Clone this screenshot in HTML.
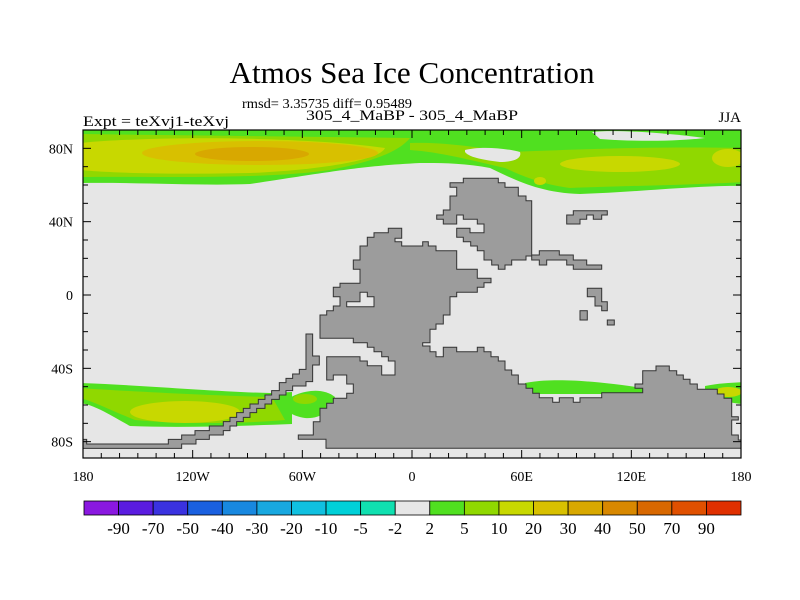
<!DOCTYPE html>
<html><head><meta charset="utf-8">
<style>
html,body{margin:0;padding:0;background:#fff;}
svg{display:block;font-family:"Liberation Serif",serif;}
</style></head>
<body>
<svg id="chart" width="800" height="600" viewBox="0 0 800 600">
  <text x="412" y="83" font-size="31" text-anchor="middle" textLength="365" lengthAdjust="spacingAndGlyphs">Atmos Sea Ice Concentration</text>
  <text x="242" y="108" font-size="14" textLength="170" lengthAdjust="spacingAndGlyphs">rmsd= 3.35735 diff= 0.95489</text>
  <text x="412" y="120" font-size="15" text-anchor="middle" textLength="212" lengthAdjust="spacingAndGlyphs">305_4_MaBP - 305_4_MaBP</text>
  <text x="83" y="126" font-size="15" textLength="146" lengthAdjust="spacingAndGlyphs">Expt = teXvj1-teXvj</text>
  <text x="741" y="122" font-size="15" text-anchor="end">JJA</text>

  <defs><clipPath id="mapclip"><rect x="83" y="130" width="658" height="328"/></clipPath></defs>
  <g clip-path="url(#mapclip)">
    <rect x="83" y="130" width="658" height="330" fill="#e6e6e6"/>
    <!-- Arctic ice west -->
    <g>
      <path d="M80,128 L420,128 L420,163 C360,166 330,172 250,184 C200,186 130,182 80,183 Z" fill="#50e020"/>
      <path d="M80,134 L410,138 C400,150 380,160 330,170 C260,180 150,176 80,177 Z" fill="#90d800"/>
      <path d="M80,143 C150,136 300,136 385,148 C380,160 320,170 250,173 C150,175 100,172 80,170 Z" fill="#c8d800"/>
      <ellipse cx="260" cy="153" rx="118" ry="12" fill="#d8c000"/>
      <ellipse cx="252" cy="154" rx="57" ry="7" fill="#d8a800"/>
    </g>
    <!-- Arctic ice east -->
    <g>
      <path d="M410,128 L745,128 L745,186 C700,185 640,192 580,194 C540,193 515,180 490,168 C460,162 430,163 410,163 Z" fill="#50e020"/>
      <path d="M410,143 C440,142 470,146 510,152 C560,150 650,146 745,148 L745,182 C690,185 620,186 570,188 C540,184 520,175 505,168 C470,160 440,152 410,150 Z" fill="#90d800"/>
      <ellipse cx="620" cy="164" rx="60" ry="8" fill="#c8d800"/>
      <ellipse cx="728" cy="158" rx="16" ry="9" fill="#c8d800"/>
      <ellipse cx="540" cy="181" rx="6" ry="4" fill="#c8d800"/>
      <path d="M592,132 C610,130 650,131 705,138 C680,141 640,142 600,139 Z" fill="#e6e6e6"/>
      <path d="M465,150 C480,146 505,148 520,152 C522,158 515,162 500,162 C485,160 470,158 465,152 Z" fill="#e6e6e6"/>
    </g>
    <!-- Southern ice -->
    <g>
      <path d="M80,383 C140,385 220,392 270,393 L292,392 L292,424 C240,426 180,428 130,426 C110,415 95,405 80,403 Z" fill="#50e020"/>
      <path d="M80,388 C140,392 220,396 272,397 L285,420 C240,424 180,424 135,420 C110,410 95,402 80,398 Z" fill="#90d800"/>
      <ellipse cx="185" cy="412" rx="55" ry="11" fill="#c8d800"/>
      <path d="M280,404 C295,392 320,385 335,397 C330,412 320,419 305,418 C292,416 284,410 280,404 Z" fill="#50e020"/>
      <ellipse cx="305" cy="399" rx="12" ry="5" fill="#90d800"/>
      <path d="M525,383 C550,378 590,380 643,388 L643,394 L525,394 Z" fill="#50e020"/>
      <path d="M705,386 C720,383 732,383 745,382 L745,404 C730,404 715,398 705,390 Z" fill="#50e020"/>
      <ellipse cx="728" cy="392" rx="14" ry="5" fill="#c8d800"/>
    </g>
    <!-- Land -->
    <g fill="#9c9c9c" stroke="#333" stroke-width="1">
      <polygon points="388.3,228.3 401.7,228.3 401.7,238.3 395,238.3 395,241.7 401.7,241.7 401.7,246 422.7,246 422.7,241.7 428.3,241.7 428.3,246 436,246 436,250.7 456.7,250.7 456.7,269.3 477.3,269.3 477.3,278.3 491,278.3 491,282.7 484,282.7 484,287.3 477.3,287.3 477.3,292.3 456.7,292.3 456.7,296.7 450,296.7 450,315 443.3,315 443.3,324 436,324 436,329.3 430,329.3 430,342.7 422.7,342.7 422.7,346 430,346 430,351.7 436,351.7 436,356.7 443.3,356.7 443.3,347.3 456.7,347.3 456.7,351.7 477.3,351.7 477.3,347.3 484,347.3 484,351.7 491,351.7 491,356.7 498.3,356.7 498.3,361 505,361 505,370 511.7,370 511.7,375 518.3,375 518.3,384 526,384 526,388.3 532.7,388.3 532.7,393.3 539.3,393.3 539.3,397.7 552.7,397.7 552.7,402.3 559.3,402.3 559.3,397.7 573.3,397.7 573.3,402.3 580,402.3 580,397.7 601.7,397.7 601.7,392.7 642.7,392.7 642.7,388.3 635,388.3 635,384 642.7,384 642.7,370.7 656,370.7 656,366 669.3,366 669.3,370.7 676.7,370.7 676.7,375 683.3,375 683.3,379.3 690,379.3 690,384 697.3,384 697.3,389.3 717.3,389.3 717.3,394 724,394 724,398.3 731.7,398.3 731.7,416.7 738.3,416.7 738.3,420 731.7,420 731.7,435 738.3,435 738.3,440 745,440 745,448.3 326,448.3 326,439.3 298.3,439.3 298.3,435 313.3,435 313.3,421.7 320,421.7 320,408.3 326.7,408.3 326.7,403.3 333.3,403.3 333.3,398.3 346.7,398.3 346.7,393.3 353.3,393.3 353.3,384 346.7,384 346.7,375 333.3,375 333.3,380 326.7,380 326.7,356.7 360,356.7 360,361 367.3,361 367.3,365.7 381.7,365.7 381.7,375 395,375 395,361 388.3,361 388.3,356.7 381.7,356.7 381.7,351.7 374,351.7 374,347.3 367.3,347.3 367.3,342.7 353.3,342.7 353.3,338.3 320,338.3 320,315 326.7,315 326.7,310.7 333.3,310.7 333.3,306 340,306 340,296.7 333.3,296.7 333.3,287.3 340,287.3 340,283.3 360,283.3 360,269.3 353.3,269.3 353.3,260 360,260 360,246 367.3,246 367.3,237.3 374,237.3 374,232.7 388.3,232.7"/>
      <polygon fill="#e6e6e6" points="346.7,301.7 360,301.7 360,292.3 367.3,292.3 367.3,296.7 374,296.7 374,306.7 346.7,306.7"/>
      <polygon points="450,182.7 463.3,182.7 463.3,178.3 498.3,178.3 498.3,182.7 505,182.7 505,187.3 518.3,187.3 518.3,196 526,196 526,200.7 531.7,200.7 531.7,255 539.3,255 539.3,250.7 559.3,250.7 559.3,255 573.3,255 573.3,260 586.7,260 586.7,265 601.7,265 601.7,269.3 573.3,269.3 573.3,265 566.7,265 566.7,260 546.7,260 546.7,265 539.3,265 539.3,260 531.7,260 531.7,256 526,256 526,260 511.7,260 511.7,265 505,265 505,269.3 498.3,269.3 498.3,265 491.7,265 491.7,260 484,260 484,250.7 477.3,250.7 477.3,246 470.7,246 470.7,241.7 463.3,241.7 463.3,237.3 456.7,237.3 456.7,228.3 470,228.3 470,232.7 484,232.7 484,224 477.3,224 477.3,219.3 463.3,219.3 463.3,215 456.7,215 456.7,224 443.3,224 443.3,219.3 436.7,219.3 436.7,215 443.3,215 443.3,210 450,210 450,196 456.7,196 456.7,187.3 450,187.3"/>
      <polygon points="573.3,210.7 607.3,210.7 607.3,215 601.7,215 601.7,219.3 593.3,219.3 593.3,215 586.7,215 586.7,219.3 580,219.3 580,224 566.7,224 566.7,215 573.3,215"/>
      <polygon points="587.3,288.3 601.7,288.3 601.7,301.7 607.3,301.7 607.3,310.7 601.7,310.7 601.7,306 595,306 595,296.7 587.3,296.7"/>
      <rect x="580" y="310.7" width="7.3" height="9.3"/>
      <rect x="607.3" y="320" width="7" height="5"/>
      <g transform="translate(80,340) scale(0.3333)">
        <polygon vector-effect="non-scaling-stroke" points="678,-18 698,-18 698,48 718,48 718,75 698,75 698,125 678,125 678,138 638,138 638,152 618,152 618,165 598,165 598,178 575,178 575,192 555,192 555,205 530,205 530,218 510,218 510,232 490,232 490,245 470,245 470,258 450,258 450,272 430,272 430,285 388,285 388,298 348,298 348,312 305,312 305,325 8,325 8,298 20,298 20,312 265,312 265,298 305,298 305,285 345,285 345,272 388,272 388,258 430,258 430,245 450,245 450,232 470,232 470,218 490,218 490,205 510,205 510,192 535,192 535,178 555,178 555,165 575,165 575,152 598,152 598,128 618,128 618,115 638,115 638,102 658,102 658,88 678,88"/>
      </g>
    </g>
  </g>
  <rect x="83" y="130" width="658" height="328" fill="none" stroke="#000" stroke-width="1.2"/>
  <g id="axes"></g>
  <g id="colorbar"></g>
</svg>
<script>
const levelLabels = ["-90","-70","-50","-40","-30","-20","-10","-5","-2","2","5","10","20","30","40","50","70","90"];
const levelColors = ["#8a18e0","#5a1ce0","#3a32e0","#1a60e0","#1888e0","#18a8e0","#10c0e0","#00d0d8","#10e0b0","#e6e6e6","#50e020","#90d800","#c8d800","#d8c000","#d8a800","#d88800","#d86800","#e05000","#e03000"];
const latTicks = [80,40,0,-40,-80];
const latTickLabels = ["80N","40N","0","40S","80S"];
const lonTicks = [-180,-120,-60,0,60,120,180];
const lonTickLabels = ["180","120W","60W","0","60E","120E","180"];
const NS = "http://www.w3.org/2000/svg";
const X0 = 83, X1 = 741, Y0 = 130, Y1 = 458;
function xOf(lon){ return X0 + (lon + 180) / 360 * (X1 - X0); }
function yOf(lat){ return 130 + (90 - lat) / 180 * 330; }
function mk(tag, attrs, parent){ const e = document.createElementNS(NS, tag); for (const k in attrs) e.setAttribute(k, attrs[k]); parent.appendChild(e); return e; }
const axes = document.getElementById('axes');
for (let lat = -90; lat <= 90; lat += 10) {
  const y = yOf(lat); if (y < Y0 || y > Y1) continue;
  const major = latTicks.includes(lat);
  const t1 = mk('line', {x1: X0, x2: X0 + (major ? 8 : 5), y1: y, y2: y, stroke: '#000'}, axes);
  
  
  const t2 = mk('line', {x1: X1, x2: X1 - (major ? 8 : 5), y1: y, y2: y, stroke: '#000'}, axes);
  
  
}
for (let lon = -180; lon <= 180; lon += 10) {
  const x = xOf(lon);
  const major = lonTicks.includes(lon);
  const t1 = mk('line', {x1: x, x2: x, y1: Y1, y2: Y1 - (major ? 8 : 5), stroke: '#000'}, axes);
  
  
  const t2 = mk('line', {x1: x, x2: x, y1: Y0, y2: Y0 + (major ? 8 : 5), stroke: '#000'}, axes);
  
  
}
latTicks.forEach((lat, i) => {
  const t = mk('text', {x: 73, y: yOf(lat) + 5, 'font-size': 14, 'text-anchor': 'end'}, axes);
  t.textContent = latTickLabels[i];
  
  
});
lonTicks.forEach((lon, i) => {
  const t = mk('text', {x: xOf(lon), y: 481, 'font-size': 14, 'text-anchor': 'middle'}, axes);
  t.textContent = lonTickLabels[i];
  
  
});
const cb = document.getElementById('colorbar');
const CB0 = 84, CB1 = 741, CBY = 501, CBH = 14;
const bw = (CB1 - CB0) / levelColors.length;
levelColors.forEach((c, i) => {
  const r = mk('rect', {x: CB0 + i * bw, y: CBY, width: bw, height: CBH, fill: c, stroke: '#000', 'stroke-width': 0.8}, cb);
  
  
});
levelLabels.forEach((l, i) => {
  const t = mk('text', {x: CB0 + (i + 1) * bw, y: 534, 'font-size': 17, 'text-anchor': 'middle'}, cb);
  t.textContent = l;
  
  
});
</script>
</body></html>
